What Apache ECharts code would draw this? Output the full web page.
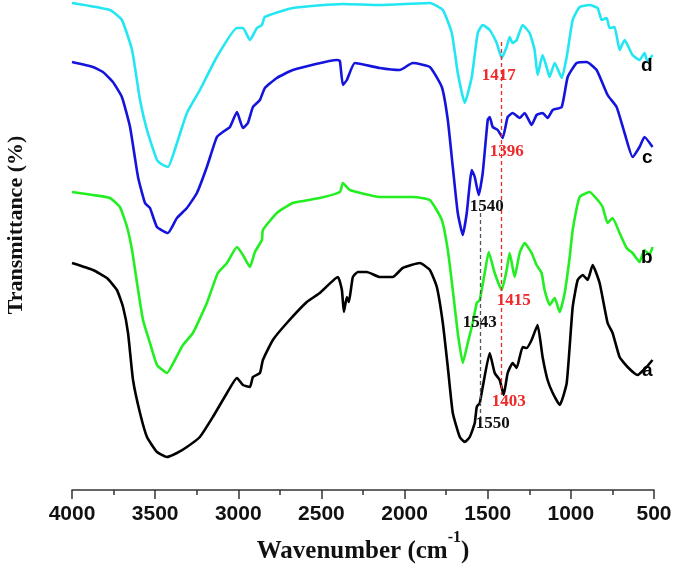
<!DOCTYPE html>
<html>
<head>
<meta charset="utf-8">
<script src="https://cdn.jsdelivr.net/npm/echarts@6/dist/echarts.min.js"></script>
<style>
  html, body { margin: 0; padding: 0; background: #fff; }
  #main { width: 685px; height: 579px; }
</style>
</head>
<body>
<div id="main"></div>
<script>
// wavenumber (cm-1) / offset transmittance (arbitrary units) for each spectrum
var waveD = [4000,3772,3700,3639,3591,3549,3489,3453,3423,3363,3309,3231,3129,3008,2972,2930,2888,2858,2840,2672,2371,2149,1848,1770,1716,1680,1638,1596,1560,1530,1488,1446,1416,1386,1368,1350,1326,1290,1248,1218,1200,1170,1146,1128,1097,1055,1025,989,947,887,839,815,785,767,737,707,677,629,587,557,539,509];
var transD = [487,480,470,440,390,360,330,325,323,350,377,400,433,462,462,450,462,465,473,482,486,485,487,480,457,417,387,413,457,465,460,447,432,443,453,447,450,465,457,440,415,435,423,413,427,412,433,470,483,485,482,470,472,462,463,440,450,435,430,437,428,435];

var waveC = [4000,3874,3814,3754,3700,3651,3603,3561,3531,3489,3423,3369,3309,3249,3189,3129,3093,3050,3008,2972,2942,2912,2870,2840,2768,2672,2407,2389,2371,2347,2299,2149,2029,1951,1848,1776,1740,1710,1680,1650,1626,1596,1578,1554,1530,1500,1488,1470,1440,1410,1380,1350,1308,1278,1236,1206,1170,1140,1109,1055,1019,965,905,845,779,725,677,629,587,557,509];
var transC = [428,423,418,408,393,363,313,287,282,263,257,272,282,297,323,353,358,363,378,362,367,383,390,402,412,420,430,429,405,410,427,422,420,427,423,403,370,323,277,255,277,320,313,295,317,370,373,363,360,352,373,377,372,377,365,375,377,372,380,383,413,427,428,420,395,383,357,333,343,353,343];

var waveB = [4000,3874,3772,3712,3669,3639,3609,3573,3531,3489,3429,3381,3333,3273,3189,3123,3068,3008,2972,2930,2900,2858,2852,2768,2672,2510,2389,2371,2329,2149,1951,1848,1776,1740,1710,1680,1650,1620,1590,1566,1548,1518,1494,1458,1416,1386,1368,1338,1308,1278,1236,1206,1176,1158,1127,1097,1067,1037,1007,989,947,887,839,809,779,749,707,665,629,587,557,527,509];
var transB = [298,295,292,283,263,240,207,170,147,125,117,130,145,157,187,217,227,243,235,223,238,250,260,277,287,292,298,307,300,293,293,290,270,240,200,157,127,147,167,187,190,217,238,217,200,220,237,213,237,247,237,225,217,200,185,192,178,197,233,260,293,298,290,283,267,272,257,242,237,228,240,235,243];

var waveA = [4000,3874,3790,3730,3693,3663,3633,3591,3549,3489,3429,3369,3309,3231,3153,3068,3008,2972,2930,2912,2870,2852,2792,2708,2588,2510,2401,2377,2365,2347,2335,2311,2281,2227,2149,2071,2011,1908,1848,1806,1770,1740,1710,1668,1638,1608,1578,1566,1548,1530,1488,1458,1428,1404,1380,1350,1326,1290,1266,1236,1200,1170,1140,1109,1067,1025,989,959,929,899,869,827,779,749,707,659,599,545,509];
var transA = [227,220,212,200,183,157,110,77,53,38,33,37,43,53,73,97,112,105,103,113,117,130,150,167,188,197,213,200,178,193,188,213,218,218,213,213,222,227,220,203,167,123,77,53,48,53,67,83,87,103,137,117,110,95,117,127,122,143,142,150,165,133,110,97,85,107,183,210,215,210,225,207,167,157,133,123,115,123,130];

var seriesNames = ['d', 'c', 'b', 'a'];
var seriesColors = ['#22e6f2', '#1414dc', '#22ee22', '#000000'];

// peak annotations: label text, label position [wavenumber, value], colour
var peakText = ['1417', '1396', '1540', '1415', '1543', '1403', '1550'];
var peakWave = [1434, 1386, 1506, 1344, 1548, 1374, 1470];
var peakVal = [414, 338, 283, 189, 167, 88, 66];
var peakColor = ['#ee2a2a', '#ee2a2a', '#111111', '#ee2a2a', '#111111', '#ee2a2a', '#111111'];

// dashed guide lines: wavenumber, top value, bottom value, colour
var guideWave = [1421, 1547];
var guideTop = [448, 277];
var guideBottom = [95, 62];
var guideColor = ['#ee2a2a', '#555555'];

var xTicksMin = 500, xTicksMax = 4000, xTickStep = 500;

function pairs(w, t) {
  var out = [];
  for (var i = 0; i < w.length; i++) out.push([w[i], t[i]]);
  return out;
}

var curves = [pairs(waveD, transD), pairs(waveC, transC), pairs(waveB, transB), pairs(waveA, transA)];

var chart = echarts.init(document.getElementById('main'));

var series = curves.map(function (d, i) {
  return {
    name: seriesNames[i],
    type: 'line',
    data: d,
    showSymbol: false,
    smooth: 0.15,
    silent: true,
    lineStyle: { color: seriesColors[i], width: 2.6 },
    endLabel: {
      show: true,
      formatter: '{a}',
      offset: [8, 11],
      color: '#000',
      fontFamily: 'Liberation Sans',
      fontWeight: 'bold',
      fontSize: 19
    }
  };
});

// annotation series (labels + dashed guides)
series.push({
  type: 'line',
  data: [],
  silent: true,
  markPoint: {
    symbol: 'circle',
    symbolSize: 0,
    data: peakText.map(function (t, i) {
      return {
        coord: [peakWave[i], peakVal[i]],
        label: {
          show: true,
          formatter: t,
          position: 'inside',
          color: peakColor[i],
          fontFamily: 'Liberation Serif',
          fontWeight: 'bold',
          fontSize: 17
        }
      };
    })
  },
  markLine: {
    symbol: 'none',
    silent: true,
    label: { show: false },
    data: guideWave.map(function (w, i) {
      return [
        { coord: [w, guideTop[i]], lineStyle: { color: guideColor[i], type: [4, 3], width: 1.3 } },
        { coord: [w, guideBottom[i]] }
      ];
    })
  }
});

chart.setOption({
  animation: false,
  grid: { left: 72, right: 31, top: 0, bottom: 89, containLabel: false, outerBoundsMode: 'none' },
  xAxis: {
    type: 'value',
    inverse: true,
    min: xTicksMin,
    max: xTicksMax,
    interval: xTickStep,
    name: '{n|Wavenumber (cm}{s|-1}{n|)}',
    nameLocation: 'middle',
    nameGap: 38,
    nameTextStyle: {
      rich: {
        n: { fontFamily: 'Liberation Serif', fontWeight: 'bold', fontSize: 25, color: '#111', verticalAlign: 'bottom', lineHeight: 34 },
        s: { fontFamily: 'Liberation Serif', fontWeight: 'bold', fontSize: 16, color: '#111', verticalAlign: 'top', lineHeight: 34, padding: [0, 0, 14, 0] }
      }
    },
    axisLine: { lineStyle: { color: '#333', width: 1.5 } },
    axisTick: { show: true, inside: false, length: 9, lineStyle: { color: '#333', width: 1.5 } },
    minorTick: { show: true, splitNumber: 2, length: 5, lineStyle: { color: '#333', width: 1.5 } },
    splitLine: { show: false },
    axisLabel: {
      margin: 14,
      color: '#111',
      fontFamily: 'Liberation Sans',
      fontWeight: 'bold',
      fontSize: 21,
      formatter: function (v) { return String(v); }
    }
  },
  yAxis: {
    type: 'value',
    min: 0,
    max: 490,
    name: 'Transmittance (%)',
    nameLocation: 'middle',
    nameGap: 45,
    nameRotate: 90,
    nameTextStyle: {
      fontFamily: 'Liberation Serif',
      fontWeight: 'bold',
      fontSize: 22,
      color: '#111',
      padding: [0, 0, 0, 40]
    },
    axisLine: { show: false },
    axisTick: { show: false },
    axisLabel: { show: false },
    splitLine: { show: false }
  },
  series: series
});
</script>
</body>
</html>
